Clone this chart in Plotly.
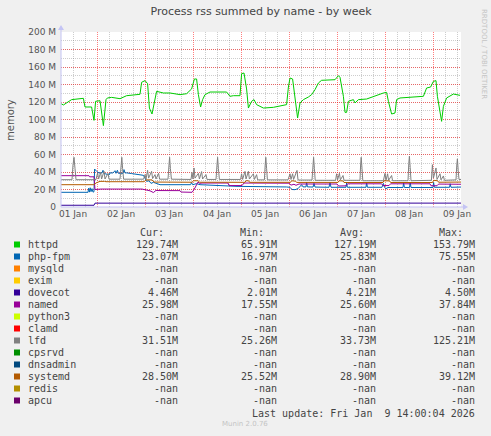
import pandas as pd
import plotly.graph_objects as go

# time axis: hours after 2026-01-01 06:00 (munin week view, 200 h)
START = pd.Timestamp("2026-01-01 06:00")
END = pd.Timestamp("2026-01-09 14:00")

httpd_hours = [0, 1.2, 5.3, 11.2, 12.0, 15.3, 16.5, 17.3, 19.5, 21.2, 22.5, 23.2, 25.3, 29.5,
               32.8, 36.2, 39.5, 40.3, 42.0, 43.3, 44.2, 45.5, 46.5, 47.8, 51.2, 54.5, 59.5,
               62.8, 65.3, 66.7, 67.8, 68.7, 69.8, 70.8, 72.0, 74.5, 82.8, 84.5, 86.2, 89.5,
               90.3, 91.5, 92.8, 93.7, 95.3, 96.5, 97.8, 101.2, 106.2, 111.2, 112.8, 113.7,
               114.5, 115.8, 117.0, 118.3, 119.5, 121.2, 123.7, 125.3, 127.0, 128.7, 130.3,
               137.0, 138.7, 139.5, 141.2, 142.0, 142.8, 143.7, 146.2, 147.0, 148.7, 152.8,
               161.2, 162.8, 163.7, 165.3, 167.0, 167.8, 169.5, 174.5, 181.2, 182.8, 184.8,
               186.2, 187.5, 188.2, 189.2, 190.3, 191.2, 192.8, 196.2, 198.7, 199.5]
httpd_mem = [118.1, 116.6, 122.7, 124.2, 114.3, 114.3, 99.0, 120.8, 121.5, 93.0, 122.7, 124.6,
             125.3, 123.8, 127.2, 128.4, 128.8, 142.5, 144.4, 141.0, 113.1, 106.3, 118.9, 132.2,
             130.3, 130.3, 128.4, 129.5, 134.9, 146.3, 146.3, 128.4, 114.3, 122.7, 128.4, 131.4,
             131.4, 126.5, 127.2, 127.2, 152.4, 153.1, 134.9, 113.1, 120.8, 122.7, 117.0, 113.1,
             113.9, 116.6, 117.0, 137.1, 147.4, 146.3, 126.5, 101.7, 118.9, 122.7, 125.7, 128.4,
             134.1, 141.7, 144.8, 145.5, 150.1, 148.2, 126.5, 108.2, 108.2, 120.8, 122.7, 118.9,
             122.7, 123.4, 130.3, 131.0, 120.8, 106.3, 107.4, 122.7, 124.6, 125.7, 126.5, 136.0,
             137.1, 143.6, 144.4, 126.5, 113.1, 97.9, 115.0, 124.6, 129.1, 127.6, 127.6]

phpfpm_hours = [0, 13.5, 13.8, 14.2, 14.6, 15.0, 15.5, 16.0, 16.5, 16.8, 17.8, 19.0, 20.5, 21.0,
                21.5, 24.0, 24.5, 26.0, 27.0, 27.5, 28.2, 28.7, 31.0, 31.5, 32.0, 32.8, 35.3,
                37.8, 41.2, 42.0, 42.8, 44.0, 45.0, 46.2, 48.0, 49.5, 64.8, 65.3, 65.8, 67.8,
                69.5, 86.2, 88.0, 112.8, 114.5, 115.5, 117.0, 118.5, 119.5, 120.3, 121.0, 122.5,
                122.8, 123.2, 126.0, 126.5, 127.0, 134.0, 134.5, 135.0, 142.5, 142.8, 143.2,
                152.5, 152.8, 153.2, 160.5, 161.2, 161.8, 162.5, 163.5, 171.0, 171.3, 171.7,
                174.3, 174.6, 175.0, 186.0, 186.3, 186.7, 194.3, 194.6, 195.0, 200]
phpfpm_mem = [16.8, 16.8, 21.5, 17.0, 22.0, 17.5, 21.0, 17.0, 17.5, 43.4, 40.8, 38.9, 38.9, 42.0,
              38.5, 36.5, 39.0, 38.9, 41.5, 38.5, 42.0, 38.5, 38.5, 42.7, 38.9, 39.0, 38.2,
              37.0, 36.2, 33.0, 29.3, 30.0, 27.0, 28.2, 27.0, 25.5, 25.5, 28.0, 25.5, 26.7,
              25.5, 24.4, 23.6, 22.9, 22.5, 20.0, 19.8, 21.0, 23.0, 25.5, 23.0, 23.0,
              28.5, 23.0, 22.8, 27.0, 22.8, 22.5, 28.0, 22.5, 22.5, 27.5, 22.5,
              22.5, 28.0, 22.5, 22.5, 27.0, 22.3, 21.0, 22.3, 22.3, 27.5, 22.3,
              22.3, 28.5, 22.3, 22.3, 28.0, 22.5, 22.5, 26.5, 22.5, 22.8]

dovecot_hours = [0, 16.5, 17.0, 200]
dovecot_mem = [2.0, 2.0, 4.4, 4.45]

named_hours = [0, 14.0, 14.3, 16.5, 17.0, 20.0, 40.5, 42.0, 44.5, 46.2, 47.5, 48.5, 59.5, 60.0,
               65.5, 66.5, 67.8, 68.5, 69.3, 70.5, 83.5, 84.0, 90.5, 91.5, 114.0, 115.0, 116.5,
               117.5, 119.0, 138.0, 138.8, 142.5, 143.3, 160.3, 161.0, 164.0, 164.8, 184.5,
               185.0, 188.0, 188.8, 200]
named_mem = [35.8, 35.8, 34.5, 34.5, 20.0, 20.5, 20.5, 19.8, 18.5, 16.5, 19.0, 18.8, 18.7, 17.1,
             16.8, 19.8, 25.5, 28.5, 27.0, 27.4, 27.4, 24.5, 24.5, 27.4, 27.2, 25.0, 26.0,
             24.8, 26.3, 26.3, 24.0, 24.2, 26.5, 26.5, 24.5, 24.5, 26.5, 26.5,
             24.3, 24.3, 26.2, 26.0]

lfd_hours = [0, 5.5, 6.0, 6.5, 7.0, 7.5, 16.5, 17.5, 18.3, 18.8, 19.8, 20.3, 21.5, 22.0, 23.5,
             24.0, 29.5, 30.0, 30.4, 30.8, 31.3, 41.3, 42.0, 42.5, 43.3, 43.8, 45.3, 45.8,
             47.0, 47.5, 48.8, 49.3, 53.5, 54.0, 54.3, 54.7, 55.2, 65.0, 65.5, 66.0, 66.5,
             67.0, 68.7, 69.2, 70.3, 70.8, 72.5, 73.0, 77.5, 78.0, 78.3, 78.7, 79.2, 89.8,
             90.3, 90.8, 92.0, 92.5, 93.7, 94.2, 96.2, 96.7, 97.8, 98.3, 101.7, 102.1, 102.4,
             102.8, 103.2, 113.5, 114.5, 115.0, 115.8, 116.3, 118.0, 118.5, 119.0, 125.5,
             126.0, 126.3, 126.7, 127.1, 137.3, 137.8, 138.3, 139.2, 139.7, 141.0, 141.5,
             149.5, 149.8, 150.1, 150.5, 150.9, 161.2, 162.0, 162.5, 163.3, 163.8, 165.3,
             165.8, 173.5, 173.9, 174.2, 174.6, 175.0, 185.2, 185.7, 186.2, 187.5, 188.0,
             189.5, 190.0, 191.2, 191.7, 197.5, 197.9, 198.2, 198.6, 199.0, 200]
lfd_mem = [31.2, 31.2, 48.0, 56.8, 44.0, 31.2, 31.2, 31.5, 38.9, 32.0, 39.5, 32.0, 40.8, 32.0,
           38.5, 31.8, 31.8, 48.0, 56.8, 44.0, 31.8, 31.8, 37.0, 32.0, 42.0, 33.0, 40.8, 32.5,
           37.0, 32.0, 38.5, 31.8, 31.8, 48.0, 56.8, 44.0, 31.8, 31.5, 39.5, 32.0, 44.6,
           33.0, 38.5, 32.0, 40.5, 32.0, 37.0, 31.5, 31.5, 48.0, 56.8, 44.0, 31.5, 31.5,
           38.0, 31.5, 40.7, 32.0, 40.8, 32.0, 38.0, 31.5, 37.0, 31.0, 31.0, 48.0, 56.8,
           44.0, 31.0, 31.0, 38.0, 31.5, 38.0, 31.5, 41.8, 31.0, 30.8, 30.8,
           48.0, 56.8, 44.0, 30.5, 30.5, 38.0, 31.0, 38.5, 31.0, 36.0, 30.5,
           30.5, 48.0, 56.8, 44.0, 30.0, 30.0, 38.5, 30.5, 38.0, 30.5, 36.0,
           30.0, 30.0, 50.0, 58.0, 45.0, 30.0, 30.5, 48.4, 33.0, 44.6, 31.5,
           38.0, 31.0, 35.5, 30.5, 31.0, 48.0, 55.0, 42.0, 31.5, 31.5]

systemd_hours = [0, 16.5, 17.5, 19.5, 21.8, 22.5, 41.5, 42.5, 45.5, 46.5, 65.5, 66.3, 68.5, 69.3,
                 92.0, 92.5, 93.8, 94.3, 114.8, 115.3, 117.3, 117.8, 138.5, 139.0, 141.0, 141.5,
                 161.0, 161.5, 164.3, 164.8, 185.8, 186.3, 188.3, 188.8, 200]
systemd_mem = [25.5, 25.5, 27.5, 29.3, 29.3, 28.9, 28.9, 31.0, 31.0, 28.5, 28.3, 30.0, 30.0, 28.3,
               28.2, 30.0, 30.0, 28.2, 28.2, 30.0, 29.5, 28.1, 28.1, 30.0, 29.8, 28.0,
               28.0, 30.0, 29.8, 28.0, 28.0, 30.5, 30.0, 28.3, 28.5]

# legend table
names = ["httpd", "php-fpm", "mysqld", "exim", "dovecot", "named", "python3", "clamd",
         "lfd", "cpsrvd", "dnsadmin", "systemd", "redis", "apcu"]
colors = ["#00CC00", "#0066B3", "#FF8000", "#FFCC00", "#330099", "#990099", "#CCFF00",
          "#FF0000", "#808080", "#008F00", "#00487D", "#B35A00", "#B38F00", "#6B006B"]
cur = ["129.74M", "23.07M", "-nan", "-nan", "4.46M", "25.98M", "-nan", "-nan",
       "31.51M", "-nan", "-nan", "28.50M", "-nan", "-nan"]
vmin = ["65.91M", "16.97M", "-nan", "-nan", "2.01M", "17.55M", "-nan", "-nan",
        "25.26M", "-nan", "-nan", "25.52M", "-nan", "-nan"]
avg = ["127.19M", "25.83M", "-nan", "-nan", "4.21M", "25.60M", "-nan", "-nan",
       "33.73M", "-nan", "-nan", "28.90M", "-nan", "-nan"]
vmax = ["153.79M", "75.55M", "-nan", "-nan", "4.50M", "37.84M", "-nan", "-nan",
        "125.21M", "-nan", "-nan", "39.12M", "-nan", "-nan"]

y_ticks = [0, 20, 40, 60, 80, 100, 120, 140, 160, 180, 200]
y_labels = ["0"] + [f"{v} M" for v in y_ticks[1:]]

series = {
    "httpd": (httpd_hours, httpd_mem),
    "php-fpm": (phpfpm_hours, phpfpm_mem),
    "dovecot": (dovecot_hours, dovecot_mem),
    "named": (named_hours, named_mem),
    "lfd": (lfd_hours, lfd_mem),
    "systemd": (systemd_hours, systemd_mem),
}

# plot area in pixels
L, R, T, B = 61, 461, 32, 207
W, H = 491, 436


def px(x, y):
    """pixel position -> paper coords"""
    return (x - L) / (R - L), (B - y) / (B - T)


fig = go.Figure()
for name, color in zip(names, colors):
    if name not in series:
        continue
    hours, mem = series[name]
    t = START + pd.to_timedelta(hours, unit="h")
    fig.add_trace(go.Scatter(x=t, y=mem, mode="lines", name=name,
                             line=dict(color=color, width=1)))

GRID_MAJOR = "rgba(255,0,0,0.5)"
GRID_MINOR = "rgba(90,90,90,0.3)"
AXIS = "#C4C4F4"

fig.update_layout(
    width=W, height=H,
    margin=dict(l=L, r=W - R, t=T, b=H - B),
    paper_bgcolor="#F0F0F0",
    plot_bgcolor="white",
    showlegend=False,
    font=dict(family="DejaVu Sans", size=9, color="#555555"),
    title=dict(text="Process rss summed by name - by week", x=0.5, xref="paper",
               y=1 - 11 / H, yanchor="middle",
               font=dict(family="DejaVu Sans", size=11, color="#444444")),
)

fig.update_xaxes(
    type="date", range=[START, END],
    dtick=86400000, tick0="2026-01-01", tickformat="%d %b", ticklabelmode="period",
    showgrid=True, gridcolor=GRID_MAJOR, griddash="1px,1px", gridwidth=1,
    minor=dict(dtick=21600000, showgrid=True, gridcolor=GRID_MINOR, griddash="1px,1px"),
    ticks="", zeroline=False, showline=False,
    tickfont=dict(size=9, color="#555555"),
)
fig.update_yaxes(
    range=[0, 200], tickvals=y_ticks, ticktext=y_labels,
    showgrid=True, gridcolor=GRID_MAJOR, griddash="1px,1px", gridwidth=1,
    minor=dict(dtick=10, showgrid=True, gridcolor=GRID_MINOR, griddash="1px,1px"),
    ticks="", zeroline=False, showline=False, ticklabelstandoff=4,
    tickfont=dict(size=9, color="#555555"),
)

# axis lines with arrow heads
x0, y0 = px(L, B)
x1, _ = px(R + 4, B)
_, y1 = px(L, T - 4)
fig.add_shape(type="line", xref="paper", yref="paper", x0=x0, y0=y0, x1=x1, y1=y0,
              line=dict(color=AXIS, width=1))
fig.add_shape(type="line", xref="paper", yref="paper", x0=x0, y0=y0, x1=x0, y1=y1,
              line=dict(color=AXIS, width=1))
ax, ay = px(R + 2, B - 3)
bx, by = px(R + 7, B)
cx, cy = px(R + 2, B + 3)
fig.add_shape(type="path", xref="paper", yref="paper",
              path=f"M{ax},{ay} L{bx},{by} L{cx},{cy} Z",
              fillcolor=AXIS, line=dict(width=0))
ax, ay = px(L - 3, T - 2)
bx, by = px(L, T - 7)
cx, cy = px(L + 3, T - 2)
fig.add_shape(type="path", xref="paper", yref="paper",
              path=f"M{ax},{ay} L{bx},{by} L{cx},{cy} Z",
              fillcolor=AXIS, line=dict(width=0))


def text(x, y, s, anchor="left", size=10, color="#444444", family="DejaVu Sans Mono", angle=0):
    xp, yp = px(x, y)
    fig.add_annotation(x=xp, y=yp, xref="paper", yref="paper", text=s, showarrow=False,
                       xanchor=anchor, yanchor="middle", textangle=angle,
                       font=dict(family=family, size=size, color=color))


text(10, 120, "memory", anchor="center", size=10, color="#555555",
     family="DejaVu Sans", angle=-90)
text(484, 54, "RRDTOOL / TOBI OETIKER", anchor="center", size=7, color="#C4C4C4",
     family="DejaVu Sans", angle=90)

# legend table below the graph
for hx, h in zip([166, 266, 366, 465], ["Cur:", "Min:", "Avg:", "Max:"]):
    text(hx, 232, h, anchor="right")

for i, name in enumerate(names):
    ry = 244.5 + 12 * i
    sx0, sy0 = px(14, ry - 3)
    sx1, sy1 = px(20, ry + 3)
    fig.add_shape(type="rect", xref="paper", yref="paper", x0=sx0, y0=sy0, x1=sx1, y1=sy1,
                  fillcolor=colors[i], line=dict(width=0))
    text(26, ry, name)
    for vx, col in zip([180, 279, 378, 477], [cur, vmin, avg, vmax]):
        text(vx, ry, col[i], anchor="right")

text(477, 413, "Last update: Fri Jan \u00a09 14:00:04 2026", anchor="right")
text(245, 424, "Munin 2.0.76", anchor="center", size=7, color="#C4C4C4", family="DejaVu Sans")

# drop the default 8px page margin so the figure sits at the window corner
fig.write_html("out.html", config={"displayModeBar": False},
               post_script="document.body.style.margin='0px';")
